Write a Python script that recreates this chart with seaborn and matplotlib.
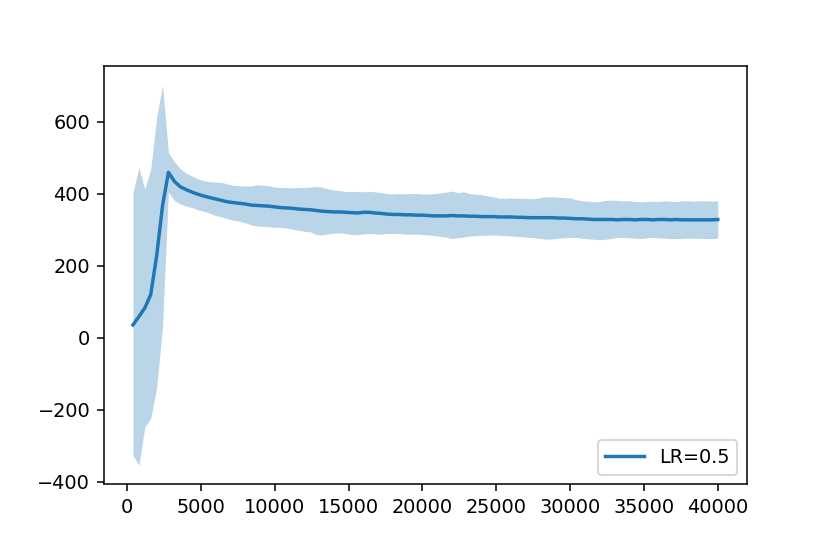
import numpy as np
import pandas as pd
import matplotlib
matplotlib.use('Agg')
import matplotlib.pyplot as plt
import seaborn as sns

# training steps
steps = np.arange(400, 40001, 400)

# mean reward per step
mean_vals = [
    36, 59, 83, 120, 227, 367, 460, 435, 420, 412,
    405, 399, 394, 390, 386, 382, 378, 376, 374, 372,
    369, 368, 367, 366, 364, 362, 361, 360, 358, 357,
    356, 354, 352, 351, 350, 350, 349, 348, 347, 349,
    349, 347, 346, 344, 343, 343, 342, 342, 341, 341,
    340, 339, 339, 339, 340, 339, 339, 338, 338, 337,
    337, 337, 336, 336, 336, 335, 335, 334, 334, 334,
    334, 334, 333, 333, 332, 331, 331, 330, 329, 329,
    329, 329, 328, 329, 329, 328, 329, 329, 328, 329,
    329, 328, 329, 328, 328, 328, 328, 328, 328, 329,
]

# upper edge of band
upper_vals = [
    404, 473, 413, 469, 613, 703, 515, 490, 470, 458,
    450, 442, 437, 434, 433, 432, 428, 424, 423, 422,
    422, 426, 424, 423, 419, 418, 418, 417, 418, 418,
    419, 421, 419, 414, 411, 409, 407, 406, 407, 406,
    407, 406, 404, 401, 400, 401, 400, 401, 401, 400,
    400, 401, 403, 405, 408, 404, 406, 401, 399, 398,
    395, 392, 388, 388, 389, 388, 388, 387, 387, 390,
    392, 392, 391, 390, 389, 384, 381, 380, 378, 379,
    382, 383, 382, 381, 381, 379, 378, 379, 380, 379,
    381, 380, 379, 381, 381, 380, 381, 381, 380, 381,
]

# lower edge of band
lower_vals = [
    -327, -354, -248, -224, -140, 30, 405, 382, 372, 366,
    362, 356, 352, 346, 340, 336, 331, 327, 324, 320,
    314, 311, 310, 309, 307, 307, 305, 302, 299, 296,
    295, 287, 286, 289, 291, 292, 290, 287, 287, 289,
    290, 289, 288, 290, 290, 290, 288, 288, 288, 287,
    286, 284, 282, 280, 276, 278, 280, 283, 284, 285,
    285, 286, 285, 284, 283, 282, 281, 279, 278, 276,
    274, 275, 277, 278, 279, 279, 277, 275, 274, 273,
    274, 276, 279, 279, 278, 277, 276, 278, 279, 278,
    277, 276, 276, 276, 277, 277, 276, 276, 276, 277,
]

df = pd.DataFrame({'step': steps, 'reward': mean_vals,
                   'lo': lower_vals, 'hi': upper_vals})

fig, ax = plt.subplots(figsize=(830 / 138.4, 554 / 138.4), dpi=138.4)
fig.subplots_adjust(left=0.125, right=0.9, top=0.881, bottom=0.126)

sns.lineplot(data=df, x='step', y='reward', ax=ax, color='#1f77b4',
             linewidth=1.8, label='LR=0.5')
ax.fill_between(df['step'], df['lo'], df['hi'], color='#1f77b4',
                alpha=0.3, linewidth=0)

ax.set_xlabel('')
ax.set_ylabel('')
ax.legend(loc='lower right')

fig.savefig('out.png', dpi=138.4)
